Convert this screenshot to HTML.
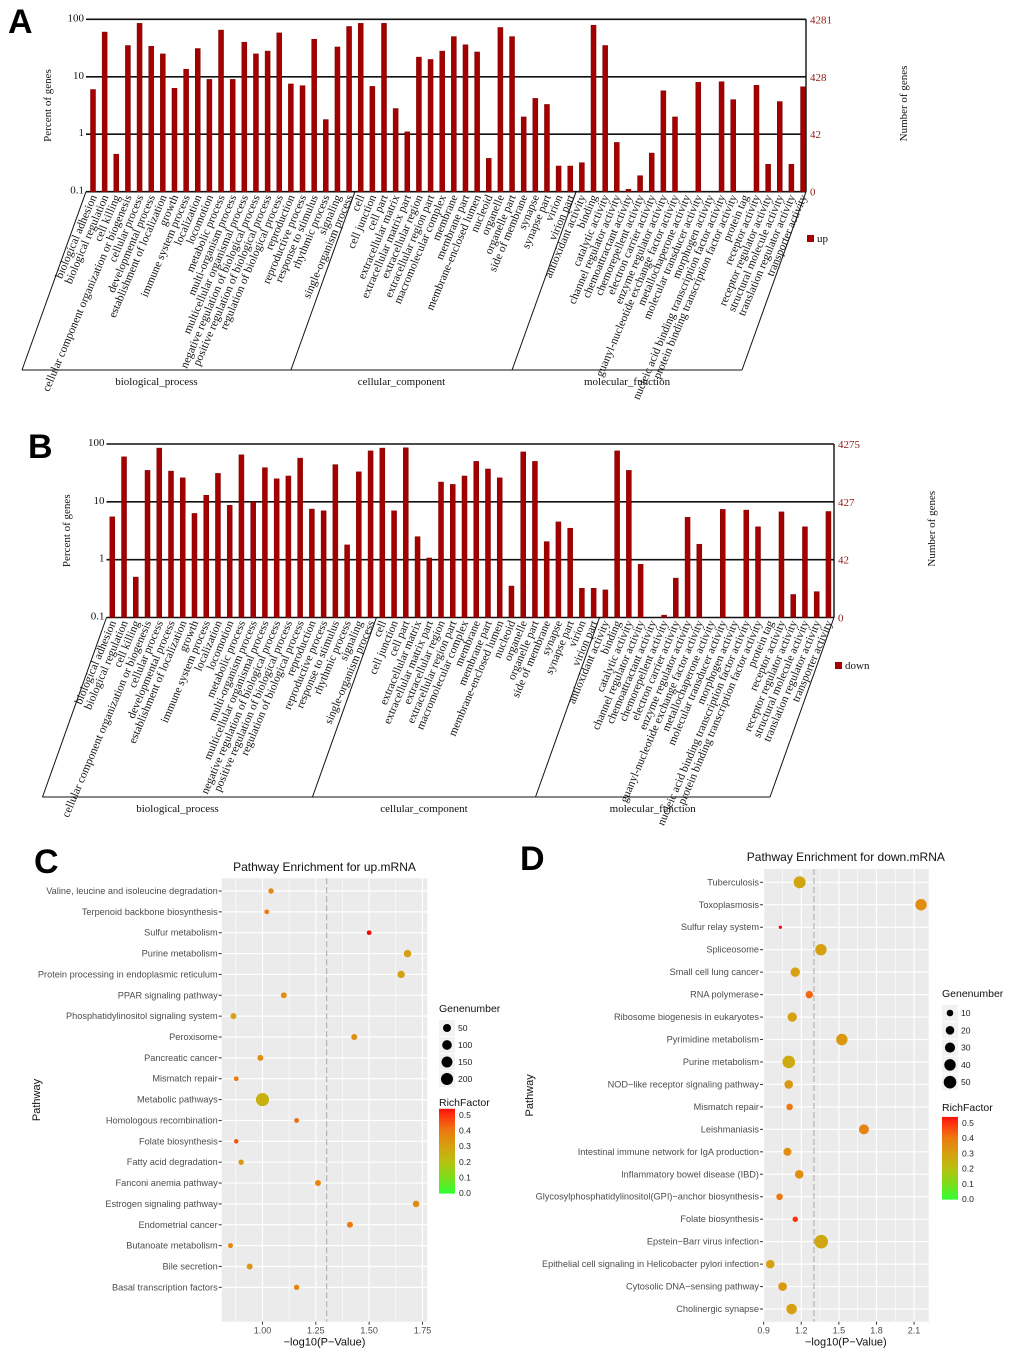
<!DOCTYPE html>
<html><head><meta charset="utf-8"><style>
html,body{margin:0;padding:0;background:#fff;}
svg{display:block;}
.serif{font-family:"Liberation Serif",serif;}
.sans{font-family:"Liberation Sans",sans-serif;}
</style></head><body>
<svg id="fig" width="1020" height="1352" viewBox="0 0 1020 1352" xmlns="http://www.w3.org/2000/svg">
<text x="8" y="33" class="sans" font-size="34" font-weight="bold">A</text>
<text x="28" y="458" class="sans" font-size="34" font-weight="bold">B</text>
<text x="34" y="873" class="sans" font-size="34" font-weight="bold">C</text>
<text x="520" y="870" class="sans" font-size="34" font-weight="bold">D</text>
<g id="gA"></g>
<g id="gB"></g>
<g id="gC"></g>
<g id="gD"></g>
</svg>
<script>
const goCategories = ["biological adhesion","biological regulation","cell killing","cellular component organization or biogenesis","cellular process","developmental process","establishment of localization","growth","immune system process","localization","locomotion","metabolic process","multi-organism process","multicellular organismal process","negative regulation of biological process","positive regulation of biological process","regulation of biological process","reproduction","reproductive process","response to stimulus","rhythmic process","signaling","single-organism process",
"cell","cell junction","cell part","extracellular matrix","extracellular matrix part","extracellular region","extracellular region part","macromolecular complex","membrane","membrane part","membrane-enclosed lumen","nucleoid","organelle","organelle part","side of membrane","synapse","synapse part","virion","virion part",
"antioxidant activity","binding","catalytic activity","channel regulator activity","chemoattractant activity","chemorepellent activity","electron carrier activity","enzyme regulator activity","guanyl-nucleotide exchange factor activity","metallochaperone activity","molecular transducer activity","morphogen activity","nucleic acid binding transcription factor activity","protein binding transcription factor activity","protein tag","receptor activity","receptor regulator activity","structural molecule activity","translation regulator activity","transporter activity"];
const goGroups = ["biological_process","cellular_component","molecular_function"];
const goGroupSizes = [23,19,20];
const goTicks = [0.1,1,10,100];
const upPercent = [6,60,0.45,35,85,34,25,6.3,13.5,31,9,65,9,40,25,28,58,7.5,7,45,1.8,33,75,
85,6.8,85,2.8,1.1,22,20,28,50,36,27,0.38,72,50,2.0,4.2,3.3,0.28,0.28,
0.32,79,35,0.72,0.11,0.19,0.47,5.7,2.0,0,8,0,8.2,4.0,0,7.1,0.3,3.7,0.3,6.7];
const upCountTicks = ["0","42","428","4281"];
const downPercent = [5.5,60,0.5,35,85,34,26,6.3,13,31,8.7,65,10,39,25,28,57,7.5,7,44,1.8,33,76,
85,7,86,2.5,1.07,22,20,28,50,37,26,0.35,73,50,2.05,4.5,3.5,0.32,0.32,
0.3,76,35,0.83,0,0.11,0.48,5.4,1.85,0,7.4,0,7.2,3.7,0,6.7,0.25,3.7,0.28,6.8];
const downCountTicks = ["0","42","427","4275"];

const cPathways = ["Valine, leucine and isoleucine degradation","Terpenoid backbone biosynthesis","Sulfur metabolism","Purine metabolism","Protein processing in endoplasmic reticulum","PPAR signaling pathway","Phosphatidylinositol signaling system","Peroxisome","Pancreatic cancer","Mismatch repair","Metabolic pathways","Homologous recombination","Folate biosynthesis","Fatty acid degradation","Fanconi anemia pathway","Estrogen signaling pathway","Endometrial cancer","Butanoate metabolism","Bile secretion","Basal transcription factors"];
const cLogP = [1.04,1.02,1.50,1.68,1.65,1.10,0.864,1.43,0.99,0.877,1.00,1.16,0.877,0.90,1.26,1.72,1.41,0.85,0.94,1.16];
const cGenes = [6,2,2,36,36,12,12,12,12,2,260,2,1,6,12,21,12,3,12,6];
const cRich = [0.37,0.4,0.55,0.3,0.3,0.35,0.3,0.35,0.35,0.4,0.25,0.42,0.45,0.32,0.38,0.35,0.4,0.38,0.32,0.38];
const cXTicks = [1.00,1.25,1.50,1.75];
const cSizeLegend = [50,100,150,200];

const dPathways = ["Tuberculosis","Toxoplasmosis","Sulfur relay system","Spliceosome","Small cell lung cancer","RNA polymerase","Ribosome biogenesis in eukaryotes","Pyrimidine metabolism","Purine metabolism","NOD\u2212like receptor signaling pathway","Mismatch repair","Leishmaniasis","Intestinal immune network for IgA production","Inflammatory bowel disease (IBD)","Glycosylphosphatidylinositol(GPI)\u2212anchor biosynthesis","Folate biosynthesis","Epstein\u2212Barr virus infection","Epithelial cell signaling in Helicobacter pylori infection","Cytosolic DNA\u2212sensing pathway","Cholinergic synapse"];
const dLogP = [1.187,2.156,1.033,1.357,1.152,1.264,1.128,1.524,1.10,1.10,1.107,1.70,1.09,1.184,1.027,1.152,1.359,0.953,1.051,1.123];
const dGenes = [45,40,1,40,25,14,25,40,50,20,10,29,17,20,10,6,60,20,20,33];
const dRich = [0.28,0.35,0.55,0.3,0.3,0.42,0.3,0.32,0.27,0.32,0.4,0.38,0.35,0.35,0.4,0.5,0.28,0.3,0.32,0.3];
const dXTicks = [0.9,1.2,1.5,1.8,2.1];
const dSizeLegend = [10,20,30,40,50];
const richTicks = [0.0,0.1,0.2,0.3,0.4,0.5];

const NS = "http://www.w3.org/2000/svg";
function mk(parent, tag, attrs, text){
  const e = document.createElementNS(NS, tag);
  for (const k in attrs) e.setAttribute(k, attrs[k]);
  if (text !== undefined) e.textContent = text;
  parent.appendChild(e);
  return e;
}

function drawGO(g, cfg, values, countTicks, legendLabel){
  const yScale = v => cfg.yBot - (Math.log10(v) + 1) / 3 * (cfg.yBot - cfg.yTop);
  const xScale = i => cfg.x0 + i * cfg.step;
  goTicks.forEach((t, i) => {
    const y = yScale(t);
    const ln = mk(g, "line", {x1: cfg.left, x2: cfg.right, y1: y, y2: y, stroke: "#111", "stroke-width": 1.6});
    
    
    const tl = mk(g, "text", {x: cfg.left - 2, y: y + 2, "text-anchor": "end", "font-size": 11, fill: "#111", class: "serif"}, String(t));
    
    
    const rl = mk(g, "text", {x: cfg.right + 4, y: y + 4, "font-size": 11, fill: "#8b1a1a", class: "serif"}, countTicks[i]);
    
    
  });
  const ra = mk(g, "line", {x1: cfg.right, x2: cfg.right, y1: cfg.yTop, y2: cfg.yBot, stroke: "#111", "stroke-width": 1.4});
  
  
  values.forEach((v, i) => {
    const x = xScale(i);
    if (v > 0) {
      const y = yScale(v);
      const b = mk(g, "rect", {x: x - 2.5, y: y, width: 5, height: cfg.yBot - y, fill: "#a50000", stroke: "#7a0000", "stroke-width": 0.5});
      
      
    }
    const t = mk(g, "text", {transform: `translate(${x + 4},${cfg.yBot + 5}) rotate(-67)`, "text-anchor": "end", "font-size": 11.5, fill: "#111", class: "serif"}, goCategories[i]);
    
    
  });
  const dy = cfg.bottomLine - cfg.yBot, dx = 64;
  let start = 0;
  const divs = [cfg.left];
  goGroupSizes.forEach((n, gi) => {
    start += n;
    divs.push(gi < 2 ? xScale(start - 0.5) : cfg.right);
  });
  for (let gi = 0; gi < 3; gi++) {
    const l = mk(g, "line", {x1: divs[gi], y1: cfg.yBot, x2: divs[gi] - dx, y2: cfg.bottomLine, stroke: "#111", "stroke-width": 1});
    
    
    const lb = mk(g, "line", {x1: divs[gi] - dx, y1: cfg.bottomLine, x2: divs[gi + 1] - dx, y2: cfg.bottomLine, stroke: "#111", "stroke-width": 1});
    
    
    const tx = mk(g, "text", {x: (divs[gi] + divs[gi + 1]) / 2 - dx, y: cfg.bottomLine + 15, "text-anchor": "middle", "font-size": 11, fill: "#111", class: "serif"}, goGroups[gi]);
    
    
  }
  const l2 = mk(g, "line", {x1: cfg.right, y1: cfg.yBot, x2: cfg.right - dx, y2: cfg.bottomLine, stroke: "#111", "stroke-width": 1});
  
  
  const ya = mk(g, "text", {transform: `translate(${cfg.yTitleX},${(cfg.yTop + cfg.yBot) / 2}) rotate(-90)`, "text-anchor": "middle", "font-size": 11, fill: "#111", class: "serif"}, "Percent of genes");
  
  
  const yb = mk(g, "text", {transform: `translate(${cfg.rTitleX},${(cfg.yTop + cfg.yBot) / 2 - 2}) rotate(-90)`, "text-anchor": "middle", "font-size": 11, fill: "#111", class: "serif"}, "Number of genes");
  
  
  const lr = mk(g, "rect", {x: cfg.right + 1, y: cfg.legY - 7, width: 7, height: 7, fill: "#a50000"});
  
  
  const lt = mk(g, "text", {x: cfg.right + 11, y: cfg.legY, "font-size": 11, fill: "#111", class: "serif"}, legendLabel);
  
  
}

drawGO(document.getElementById("gA"), {left: 86, right: 806, yTop: 19.3, yBot: 191.7, x0: 93, step: 11.64, bottomLine: 370, yTitleX: 51, rTitleX: 907, legY: 242}, upPercent, upCountTicks, "up");
drawGO(document.getElementById("gB"), {left: 106.5, right: 834, yTop: 444, yBot: 617.5, x0: 112.3, step: 11.74, bottomLine: 797, yTitleX: 70, rTitleX: 935, legY: 669}, downPercent, downCountTicks, "down");

function richColor(v){
  const stops = [[0,[51,255,51]],[0.1,[125,220,26]],[0.2,[184,192,16]],[0.3,[214,160,16]],[0.4,[236,122,16]],[0.5,[255,48,16]],[0.56,[240,0,0]]];
  if (v <= 0) return "rgb(51,255,51)";
  for (let i = 1; i < stops.length; i++) {
    if (v <= stops[i][0]) {
      const a = stops[i - 1], b = stops[i], t = (v - a[0]) / (b[0] - a[0]);
      const c = a[1].map((q, k) => Math.round(q + (b[1][k] - q) * t));
      return `rgb(${c[0]},${c[1]},${c[2]})`;
    }
  }
  return "rgb(240,0,0)";
}

function drawDot(g, cfg, names, xs, genes, rich, xTicks, sizeLegend, rFn){
  const xScale = v => cfg.left + (v - cfg.xmin) / (cfg.xmax - cfg.xmin) * (cfg.right - cfg.left);
  const yScale = i => cfg.row0 + i * cfg.rowStep;
  const bg = mk(g, "rect", {x: cfg.left, y: cfg.top, width: cfg.right - cfg.left, height: cfg.bottom - cfg.top, fill: "#ebebeb"});
  
  
  for (let i = 0; i < xTicks.length; i++) {
    const x = xScale(xTicks[i]);
    const gl = mk(g, "line", {x1: x, x2: x, y1: cfg.top, y2: cfg.bottom, stroke: "#fff", "stroke-width": 1.2});
    
    
    const step = xTicks.length > 1 ? xTicks[1] - xTicks[0] : 0;
    [-0.5, 0.5].forEach(o => {
      const xv = xTicks[i] + o * step;
      if (xv > cfg.xmin && xv < cfg.xmax && (o < 0 ? i === 0 : true)) {
        const mx = xScale(xv);
        const ml = mk(g, "line", {x1: mx, x2: mx, y1: cfg.top, y2: cfg.bottom, stroke: "#fff", "stroke-width": 0.6});
        
        
      }
    });
    const tk = mk(g, "line", {x1: x, x2: x, y1: cfg.bottom, y2: cfg.bottom + 3, stroke: "#333", "stroke-width": 1});
    
    
    const tl = mk(g, "text", {x: x, y: cfg.bottom + 12, "text-anchor": "middle", "font-size": 9, fill: "#4d4d4d", class: "sans"}, cfg.tickFmt(xTicks[i]));
    
    
  }
  names.forEach((n, i) => {
    const y = yScale(i);
    const hl = mk(g, "line", {x1: cfg.left, x2: cfg.right, y1: y, y2: y, stroke: "#fff", "stroke-width": 1.2});
    
    
    const tk = mk(g, "line", {x1: cfg.left - 3, x2: cfg.left, y1: y, y2: y, stroke: "#333", "stroke-width": 1});
    
    
    const lb = mk(g, "text", {x: cfg.left - 4, y: y + 3, "text-anchor": "end", "font-size": 9.2, fill: "#4d4d4d", class: "sans"}, n);
    
    
  });
  const dx = xScale(1.301);
  const dl = mk(g, "line", {x1: dx, x2: dx, y1: cfg.top, y2: cfg.bottom, stroke: "#aaa", "stroke-width": 1, "stroke-dasharray": "6,3"});
  
  
  names.forEach((n, i) => {
    const c = mk(g, "circle", {cx: xScale(xs[i]), cy: yScale(i), r: rFn(genes[i]), fill: richColor(rich[i])});
    
    
  });
  const tt = mk(g, "text", {x: (cfg.left + cfg.right) / 2, y: cfg.titleY, "text-anchor": "middle", "font-size": 12, fill: "#111", class: "sans"}, cfg.title);
  
  
  const xt = mk(g, "text", {x: (cfg.left + cfg.right) / 2, y: cfg.bottom + 24, "text-anchor": "middle", "font-size": 11, fill: "#111", class: "sans"}, "\u2212log10(P\u2212Value)");
  
  
  const yt = mk(g, "text", {transform: `translate(${cfg.yTitleX},${(cfg.top + cfg.bottom) / 2}) rotate(-90)`, "text-anchor": "middle", "font-size": 11, fill: "#111", class: "sans"}, "Pathway");
  
  
  const st = mk(g, "text", {x: cfg.legX, y: cfg.sizeTitleY, "font-size": 10.5, fill: "#111", class: "sans"}, "Genenumber");
  
  
  sizeLegend.forEach((s, i) => {
    const y = cfg.sizeTitleY + 16 + i * cfg.sizeStep;
    const kb = mk(g, "rect", {x: cfg.legX, y: y - 8, width: 16, height: 16, fill: "#f2f2f2"});
    
    
    const c = mk(g, "circle", {cx: cfg.legX + 8, cy: y, r: rFn(s), fill: "#000"});
    
    
    const l = mk(g, "text", {x: cfg.legX + 19, y: y + 3, "font-size": 8.6, fill: "#222", class: "sans"}, String(s));
    
    
  });
  const ct = mk(g, "text", {x: cfg.legX, y: cfg.richTitleY, "font-size": 10.5, fill: "#111", class: "sans"}, "RichFactor");
  
  
  const y0 = cfg.rich0Y, per = cfg.richPer;
  for (let k = 0; k < 60; k++) {
    const v0 = 0.54 * k / 60, v1 = 0.54 * (k + 1) / 60;
    const r = mk(g, "rect", {x: cfg.legX, y: y0 - v1 * per * 10, width: 16, height: (v1 - v0) * per * 10 + 0.6, fill: richColor(v0)});
    
    
  }
  richTicks.forEach(t => {
    const y = y0 - t * per * 10;
    const l = mk(g, "text", {x: cfg.legX + 20, y: y + 3, "font-size": 8.6, fill: "#222", class: "sans"}, t.toFixed(1));
    
    
  });
}

drawDot(document.getElementById("gC"), {left: 221.7, right: 427.3, top: 878.3, bottom: 1321.7, xmin: 0.8088, xmax: 1.7727, row0: 891, rowStep: 20.86, titleY: 871, title: "Pathway Enrichment for up.mRNA", yTitleX: 40, legX: 439, sizeTitleY: 1012, sizeStep: 17, richTitleY: 1106, rich0Y: 1193, richPer: 15.6, tickFmt: v => v.toFixed(2)},
  cPathways, cLogP, cGenes, cRich, cXTicks, cSizeLegend, n => 0.283 * Math.sqrt(n) + 2);
drawDot(document.getElementById("gD"), {left: 763, right: 928.7, top: 869, bottom: 1321.7, xmin: 0.8947, xmax: 2.2169, row0: 882.3, rowStep: 22.46, titleY: 861, title: "Pathway Enrichment for down.mRNA", yTitleX: 533, legX: 942, sizeTitleY: 997, sizeStep: 17.3, richTitleY: 1111, rich0Y: 1199, richPer: 15.2, tickFmt: v => v.toFixed(1)},
  dPathways, dLogP, dGenes, dRich, dXTicks, dSizeLegend, n => 0.767 * Math.sqrt(n) + 0.87);
</script>
</body></html>
